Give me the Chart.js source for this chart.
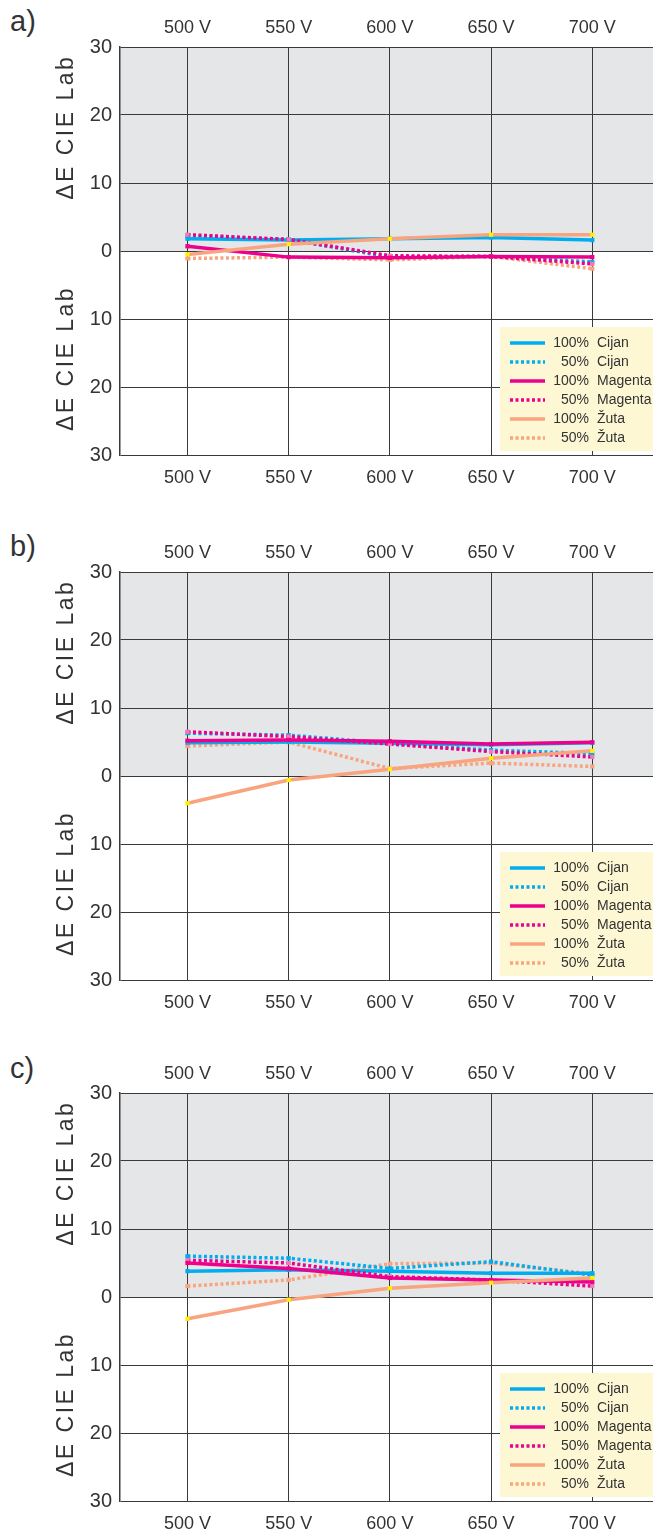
<!DOCTYPE html>
<html>
<head>
<meta charset="utf-8">
<script src="https://cdn.jsdelivr.net/npm/chart.js@4.4.1/dist/chart.umd.min.js"></script>
<style>
    body { margin: 0; width: 657px; height: 1537px; background: #fff; position: relative; overflow: hidden; }
    canvas { position: absolute; left: 0; }
    .tag { position: absolute; left: 10px; font-family: 'Liberation Sans', Arial, sans-serif; font-size: 29px; color: #333; }
</style>
</head>
<body>
<div class="tag" style="top:5px">a)</div>
<div class="tag" style="top:530px">b)</div>
<div class="tag" style="top:1052px">c)</div>
<canvas id="chartA" width="657" height="500" style="top:0px"></canvas>
<canvas id="chartB" width="657" height="500" style="top:525px"></canvas>
<canvas id="chartC" width="657" height="491" style="top:1046px"></canvas>
<script>
// voltages on the x axis
var voltages = [500, 550, 600, 650, 700];
var voltLabels = ['500 V', '550 V', '600 V', '650 V', '700 V'];
var yTicks = [-30, -20, -10, 0, 10, 20, 30];
var titleText = '\u0394E CIE Lab';

// legend texts
var seriesPct = ['100%', '50%', '100%', '50%', '100%', '50%'];
var seriesNames = ['Cijan', 'Cijan', 'Magenta', 'Magenta', '\u017duta', '\u017duta'];

// panel a)
var cyan100A = [1.8, 1.6, 1.8, 2.0, 1.6];
var cyan50A = [2.2, 1.7, -0.9, -0.8, -1.6];
var magenta100A = [0.7, -0.9, -1.0, -0.8, -0.9];
var magenta50A = [2.4, 1.7, -0.7, -0.8, -1.9];
var yellow100A = [-0.5, 1.0, 1.8, 2.4, 2.4];
var yellow50A = [-1.1, -0.9, -1.3, -0.8, -2.6];

// panel b)
var cyan100B = [4.9, 5.0, 4.8, 4.6, 4.9];
var cyan50B = [6.3, 6.0, 4.8, 3.8, 3.3];
var magenta100B = [5.2, 5.3, 5.1, 4.7, 4.95];
var magenta50B = [6.5, 5.8, 4.7, 3.6, 2.8];
var yellow100B = [-4.0, -0.6, 1.0, 2.6, 3.7];
var yellow50B = [4.4, 5.0, 1.1, 1.9, 1.4];

// panel c)
var cyan100C = [3.8, 4.0, 3.8, 3.5, 3.5];
var cyan50C = [6.0, 5.7, 4.2, 5.2, 3.2];
var magenta100C = [5.0, 4.2, 2.8, 2.5, 2.2];
var magenta50C = [5.4, 5.0, 3.0, 2.5, 1.6];
var yellow100C = [-3.2, -0.4, 1.3, 2.1, 2.8];
var yellow50C = [1.6, 2.5, 4.9, 5.0, 3.4];

var CYAN = '#00aeef';
var MAGENTA = '#ec008c';
var SALMON = '#f8a47e';
var GRID = '#3a3a3a';
var TEXT = '#333333';
var narrow = "'Liberation Sans Narrow', 'Liberation Sans', Arial, sans-serif";

function points(values) {
    return values.map(function (v, i) { return { x: voltages[i], y: v }; });
}

function makeDataset(i, values, color, dotted, markerColor, order) {
    return {
        label: seriesPct[i] + ' ' + seriesNames[i],
        data: points(values),
        borderColor: color,
        borderWidth: 3.5,
        borderDash: dotted ? [3, 2.5] : [],
        pointStyle: 'rect',
        pointRadius: 3,
        pointBorderWidth: 0,
        pointBackgroundColor: markerColor,
        tension: 0,
        fill: false,
        order: order
    };
}

// grey band above zero
var bandPlugin = {
    id: 'band',
    beforeDraw: function (chart) {
        var ctx = chart.ctx, area = chart.chartArea;
        var zero = chart.scales.y.getPixelForValue(0);
        ctx.save();
        ctx.fillStyle = '#e5e6e8';
        ctx.fillRect(area.left, area.top, area.right - area.left, zero - area.top);
        ctx.restore();
    }
};

// the two rotated y titles
var titlePlugin = {
    id: 'titles',
    afterDraw: function (chart) {
        var ctx = chart.ctx, y = chart.scales.y;
        ctx.save();
        ctx.font = "23px 'Liberation Sans', Arial, sans-serif";
        ctx.letterSpacing = '2.5px';
        ctx.fillStyle = TEXT;
        ctx.textAlign = 'center';
        ctx.textBaseline = 'middle';
        [18.2, -15.8].forEach(function (v) {
            ctx.save();
            ctx.translate(67, y.getPixelForValue(v));
            ctx.rotate(-Math.PI / 2);
            ctx.fillText(titleText, 0, 0);
            ctx.restore();
        });
        ctx.restore();
    }
};

// legend box in the lower right corner
var legendPlugin = {
    id: 'boxLegend',
    afterDatasetsDraw: function (chart) {
        var ctx = chart.ctx, area = chart.chartArea;
        var left = 500, right = area.right;
        var bottom = area.bottom - 4, top = bottom - 124;
        ctx.save();
        ctx.fillStyle = '#fdf7d4';
        ctx.fillRect(left, top, right - left, bottom - top);
        ctx.font = '14px ' + narrow;
        ctx.textBaseline = 'middle';
        chart.data.datasets.forEach(function (ds, i) {
            var yy = top + 16 + i * 19;
            ctx.strokeStyle = ds.borderColor;
            ctx.lineWidth = 3.5;
            ctx.setLineDash(ds.borderDash);
            ctx.beginPath();
            ctx.moveTo(510, yy);
            ctx.lineTo(545, yy);
            ctx.stroke();
            ctx.fillStyle = TEXT;
            ctx.textAlign = 'right';
            ctx.fillText(seriesPct[i], 589, yy);
            ctx.textAlign = 'left';
            ctx.fillText(seriesNames[i], 597, yy);
        });
        ctx.restore();
    }
};

function onlyVoltTicks(scale) {
    scale.ticks = voltages.map(function (v) { return { value: v }; });
}

function voltLabel(value) {
    return voltLabels[voltages.indexOf(value)];
}

function drawPanel(canvasId, c100, c50, m100, m50, y100, y50, bottomHeight) {
    var config = {
        type: 'line',
        data: {
            datasets: [
                makeDataset(0, c100, CYAN, false, CYAN, 3),
                makeDataset(1, c50, CYAN, true, CYAN, 4),
                makeDataset(2, m100, MAGENTA, false, MAGENTA, 1),
                makeDataset(3, m50, MAGENTA, true, '#f279b4', 2),
                makeDataset(4, y100, SALMON, false, '#fff200', 0),
                makeDataset(5, y50, SALMON, true, SALMON, 5)
            ]
        },
        options: {
            responsive: false,
            animation: false,
            devicePixelRatio: 1,
            layout: { padding: 0 },
            plugins: { legend: { display: false }, tooltip: { enabled: false } },
            scales: {
                x: {
                    type: 'linear',
                    position: 'bottom',
                    min: 466.67,
                    max: 730,
                    afterBuildTicks: onlyVoltTicks,
                    afterFit: function (s) { s.height = bottomHeight; },
                    grid: { color: GRID, lineWidth: 1, drawTicks: false },
                    border: { display: false },
                    ticks: { callback: voltLabel, color: TEXT, font: { family: narrow, size: 18 }, padding: 12, maxRotation: 0 }
                },
                xTop: {
                    type: 'linear',
                    position: 'top',
                    min: 466.67,
                    max: 730,
                    afterBuildTicks: onlyVoltTicks,
                    afterFit: function (s) { s.height = 47; },
                    grid: { display: false, drawTicks: false },
                    border: { display: false },
                    ticks: { callback: voltLabel, color: TEXT, font: { family: narrow, size: 18 }, padding: 8, maxRotation: 0 }
                },
                y: {
                    min: -30,
                    max: 30,
                    afterBuildTicks: function (s) { s.ticks = yTicks.map(function (v) { return { value: v }; }); },
                    afterFit: function (s) { s.width = 120; },
                    grid: { color: GRID, lineWidth: 1, drawTicks: false },
                    border: { display: true, color: GRID, width: 1.5 },
                    ticks: {
                        callback: function (v) { return String(Math.abs(v)); },
                        color: TEXT, font: { family: narrow, size: 20 }, padding: 8
                    }
                }
            }
        },
        plugins: [bandPlugin, titlePlugin, legendPlugin]
    };
    var ctx = document.getElementById(canvasId).getContext('2d');
    return new Chart(ctx, config);
}

drawPanel('chartA', cyan100A, cyan50A, magenta100A, magenta50A, yellow100A, yellow50A, 45);
drawPanel('chartB', cyan100B, cyan50B, magenta100B, magenta50B, yellow100B, yellow50B, 45);
drawPanel('chartC', cyan100C, cyan50C, magenta100C, magenta50C, yellow100C, yellow50C, 36);
</script>
</body>
</html>
